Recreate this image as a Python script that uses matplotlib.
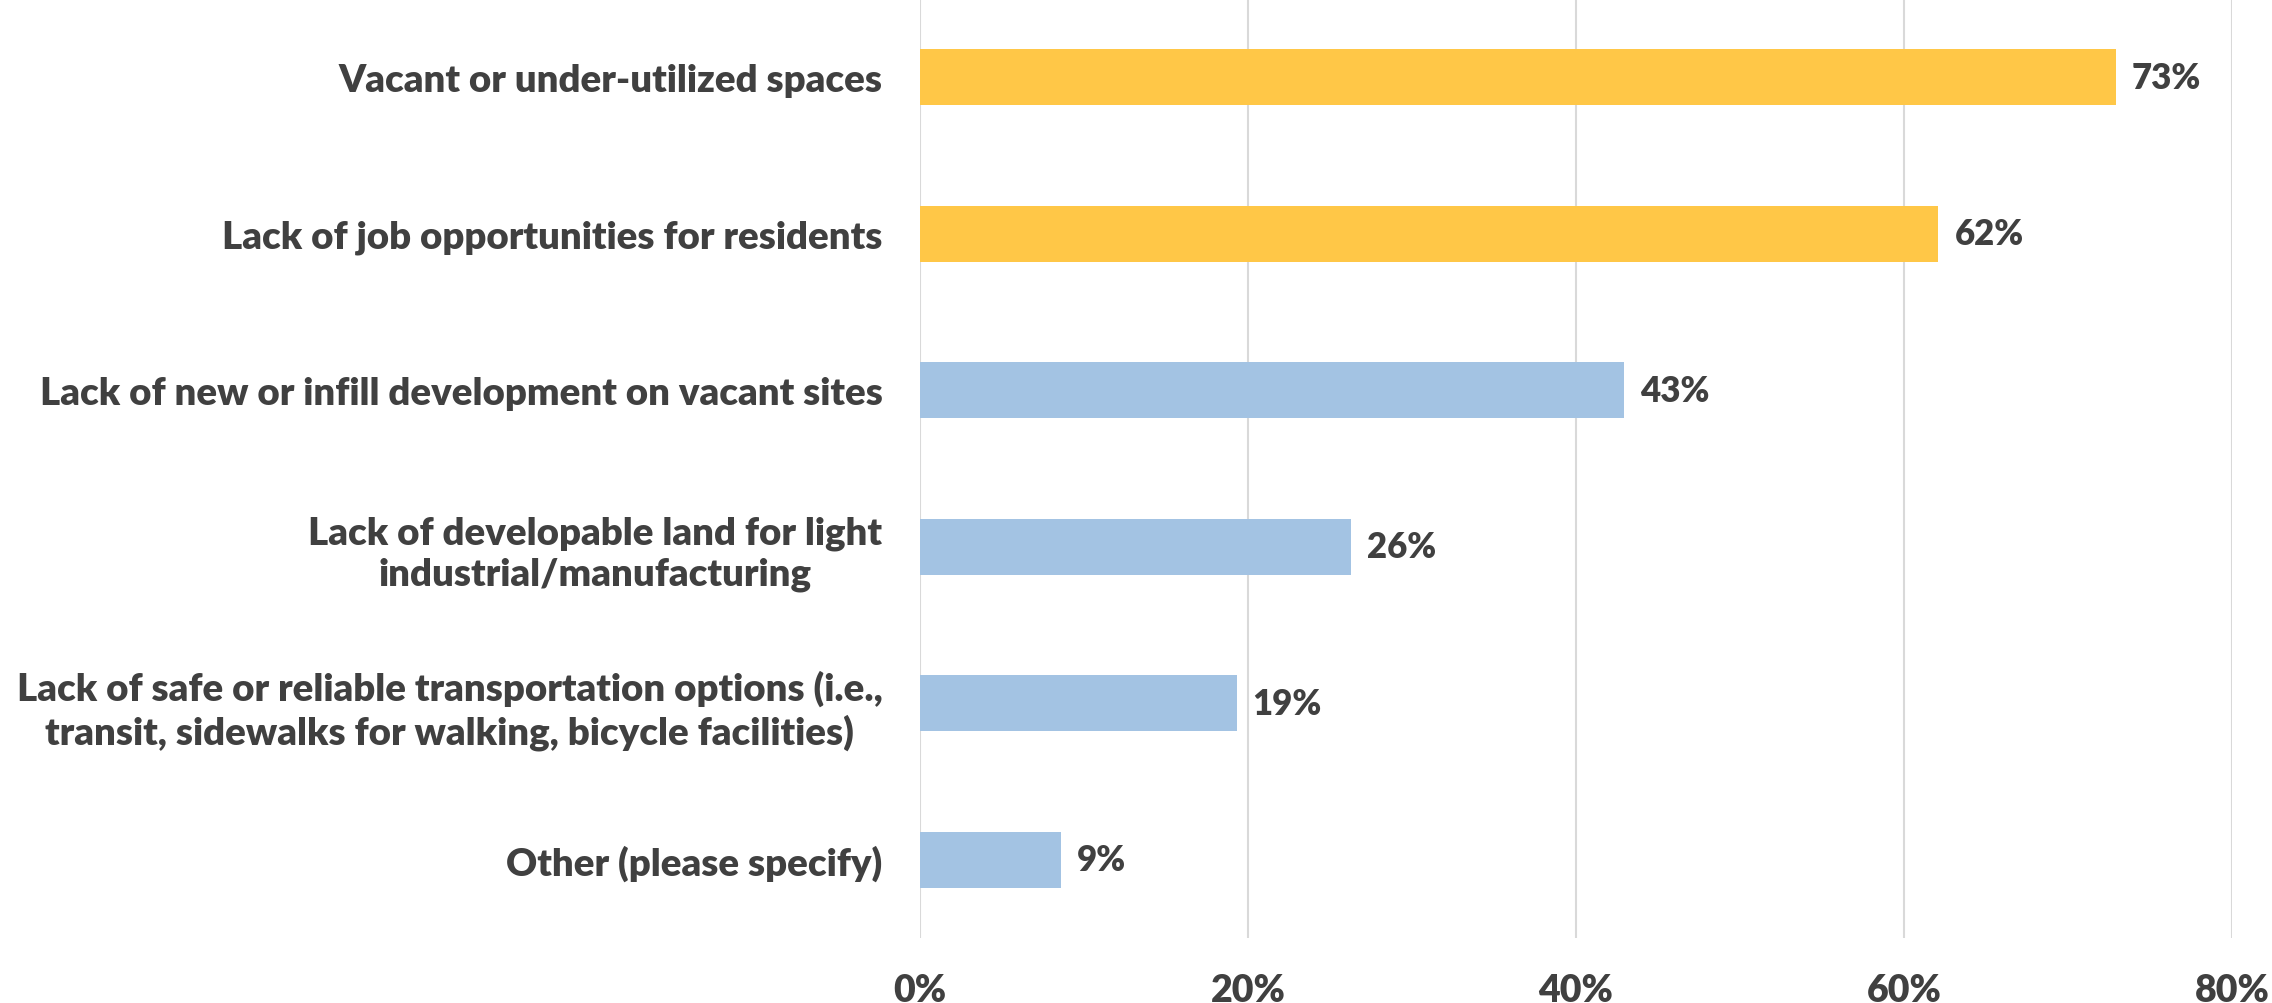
"""Horizontal bar chart of neighbourhood challenges."""

import matplotlib

matplotlib.use("Agg")
import matplotlib.pyplot as plt

categories = [
    "Vacant or under-utilized spaces",
    "Lack of job opportunities for residents",
    "Lack of new or infill development on vacant sites",
    "Lack of developable land for light\nindustrial/manufacturing",
    "Lack of safe or reliable transportation options (i.e.,\ntransit, sidewalks for walking, bicycle facilities)",
    "Other (please specify)",
]
shares = [0.729, 0.621, 0.429, 0.263, 0.193, 0.086]
highlight = [True, True, False, False, False, False]
x_ticks = [0.0, 0.2, 0.4, 0.6, 0.8]

YELLOW = "#FFC747"
BLUE = "#A3C3E3"
TEXT = "#404040"
GRID = "#D9D9D9"

plt.rcParams["font.family"] = ["Lato", "DejaVu Sans"]

fig = plt.figure(figsize=(22.72, 10.04), dpi=100)
ax = fig.add_axes([920 / 2272, 1 - 939 / 1004, 1312 / 2272, 939 / 1004])

ypos = list(range(len(categories)))
colors = [YELLOW if h else BLUE for h in highlight]
ax.barh(ypos, shares, height=0.36, color=colors, zorder=3)

for y, v in zip(ypos, shares):
    ax.text(v + 0.0098, y, f"{v:.0%}", va="center", ha="left",
            fontsize=25, fontweight="heavy", color=TEXT)

ax.set_xlim(0, 0.8)
ax.set_ylim(len(categories) - 0.5, -0.5)
ax.set_xticks(x_ticks)
ax.set_xticklabels([f"{t:.0%}" for t in x_ticks], fontweight="heavy")
ax.set_yticks(ypos)
ax.set_yticklabels(categories, linespacing=1.22, fontweight="heavy",
                   multialignment="center")
ax.tick_params(axis="x", length=0, pad=25, labelsize=27, labelcolor=TEXT)
ax.tick_params(axis="y", length=0, pad=27, labelsize=27.6, labelcolor=TEXT)

ax.grid(axis="x", color=GRID, linewidth=1.5, zorder=0)
for s in ax.spines.values():
    s.set_visible(False)

fig.savefig("out.png", dpi=100, facecolor="white")
